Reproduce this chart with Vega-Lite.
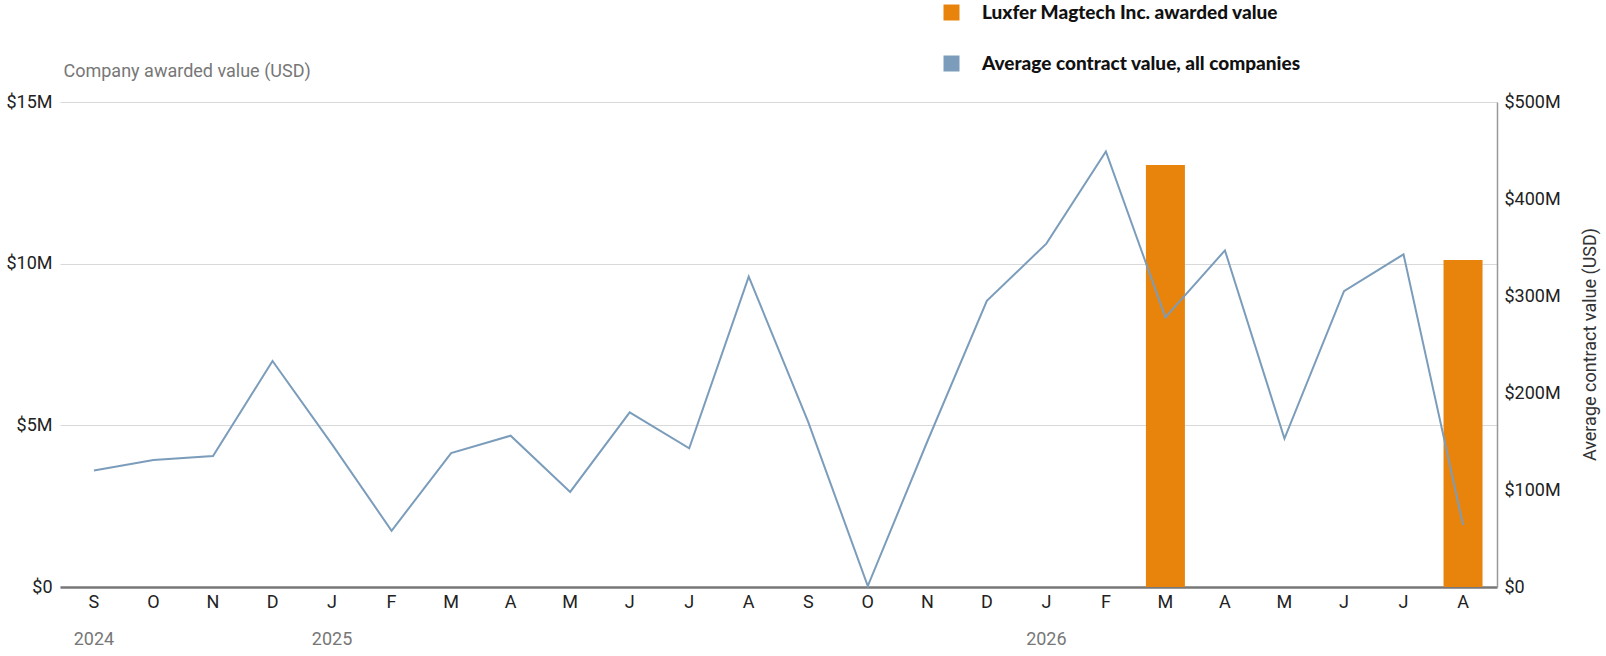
{
  "$schema": "https://vega.github.io/schema/vega-lite/v6.json",
  "description": "Luxfer Magtech awarded value vs average contract value",
  "width": 1437,
  "height": 485,
  "autosize": {"type": "none"},
  "padding": {"left": 60, "top": 102, "right": 109, "bottom": 69},
  "data": {
    "values": [
      {"date": "2024-09-01", "company": null, "average": 120000000},
      {"date": "2024-10-01", "company": null, "average": 131000000},
      {"date": "2024-11-01", "company": null, "average": 135000000},
      {"date": "2024-12-01", "company": null, "average": 233000000},
      {"date": "2025-01-01", "company": null, "average": 147000000},
      {"date": "2025-02-01", "company": null, "average": 58000000},
      {"date": "2025-03-01", "company": null, "average": 138000000},
      {"date": "2025-04-01", "company": null, "average": 156000000},
      {"date": "2025-05-01", "company": null, "average": 98000000},
      {"date": "2025-06-01", "company": null, "average": 180000000},
      {"date": "2025-07-01", "company": null, "average": 143000000},
      {"date": "2025-08-01", "company": null, "average": 320000000},
      {"date": "2025-09-01", "company": null, "average": 170000000},
      {"date": "2025-10-01", "company": null, "average": 1000000},
      {"date": "2025-11-01", "company": null, "average": 150000000},
      {"date": "2025-12-01", "company": null, "average": 295000000},
      {"date": "2026-01-01", "company": null, "average": 354000000},
      {"date": "2026-02-01", "company": null, "average": 449000000},
      {"date": "2026-03-01", "company": 13050000, "average": 278000000},
      {"date": "2026-04-01", "company": null, "average": 347000000},
      {"date": "2026-05-01", "company": null, "average": 153000000},
      {"date": "2026-06-01", "company": null, "average": 305000000},
      {"date": "2026-07-01", "company": null, "average": 343000000},
      {"date": "2026-08-01", "company": 10110000, "average": 64000000}
    ]
  },
  "config": {
    "font": "Roboto",
    "view": {"stroke": null},
    "scale": {"bandPaddingInner": 0.345, "bandPaddingOuter": 0.243},
    "axis": {"labelFontSize": 18, "labelColor": "#222", "ticks": false, "domain": false}
  },
  "layer": [
    {
      "mark": {"type": "bar", "color": "#E8830C"},
      "encoding": {
        "x": {
          "field": "date", "timeUnit": "utcyearmonth", "type": "ordinal",
          "axis": {
            "orient": "bottom", "title": null, "labelAngle": 0, "domain": true,
            "domainColor": "#777", "domainWidth": 2.5, "labelPadding": 6,
            "labelExpr": "slice(utcFormat(datum.value, '%b'), 0, 1)"
          }
        },
        "y": {
          "field": "company", "type": "quantitative",
          "scale": {"domain": [0, 15000000]},
          "axis": {
            "orient": "left", "values": [0, 5000000, 10000000, 15000000],
            "grid": true, "gridColor": "#d9d9d9", "labelPadding": 8,
            "labelExpr": "datum.value == 0 ? '$0' : '$' + datum.value / 1000000 + 'M'",
            "title": "Company awarded value (USD)", "titleAngle": 0,
            "titleX": 3, "titleY": -31, "titleAlign": "left", "titleBaseline": "middle",
            "titleFontSize": 18, "titleFontWeight": "normal", "titleColor": "#777"
          }
        },
        "color": {
          "datum": "Luxfer Magtech Inc. awarded value",
          "scale": {
            "domain": ["Luxfer Magtech Inc. awarded value", "Average contract value, all companies"],
            "range": ["#E8830C", "#7B9DBB"]
          },
          "legend": {
            "title": null, "orient": "none", "legendX": 882, "legendY": -99,
            "direction": "vertical", "symbolType": "square", "symbolSize": 256,
            "symbolStrokeWidth": 0, "labelFont": "Lato", "labelFontWeight": 900,
            "labelFontSize": 19, "labelColor": "#111", "labelOffset": 21,
            "labelLimit": 0, "rowPadding": 31, "padding": 0
          }
        }
      }
    },
    {
      "mark": {"type": "line", "color": "#7B9DBB", "strokeWidth": 2},
      "encoding": {
        "x": {
          "field": "date", "timeUnit": "utcyearmonth", "type": "ordinal",
          "axis": {
            "orient": "bottom", "title": null, "labelAngle": 0, "labelColor": "#777",
            "labelFontSize": 18, "labelPadding": 43, "labelOverlap": false,
            "labelExpr": "utcFormat(datum.value, '%m') == '01' || utcFormat(datum.value, '%Y-%m') == '2024-09' ? utcFormat(datum.value, '%Y') : ''"
          }
        },
        "y": {
          "field": "average", "type": "quantitative",
          "scale": {"domain": [0, 500000000]},
          "axis": {
            "orient": "right", "grid": false, "domain": true, "domainColor": "#999",
            "domainWidth": 1.5, "labelPadding": 7,
            "values": [0, 100000000, 200000000, 300000000, 400000000, 500000000],
            "labelExpr": "datum.value == 0 ? '$0' : '$' + datum.value / 1000000 + 'M'",
            "title": "Average contract value (USD)", "titleFontSize": 18,
            "titleFontWeight": "normal", "titleColor": "#333", "titleAngle": 270,
            "titleX": 93, "titleY": 242, "titleAlign": "center", "titleBaseline": "middle"
          }
        }
      }
    }
  ],
  "resolve": {"scale": {"y": "independent"}, "axis": {"x": "independent"}}
}
